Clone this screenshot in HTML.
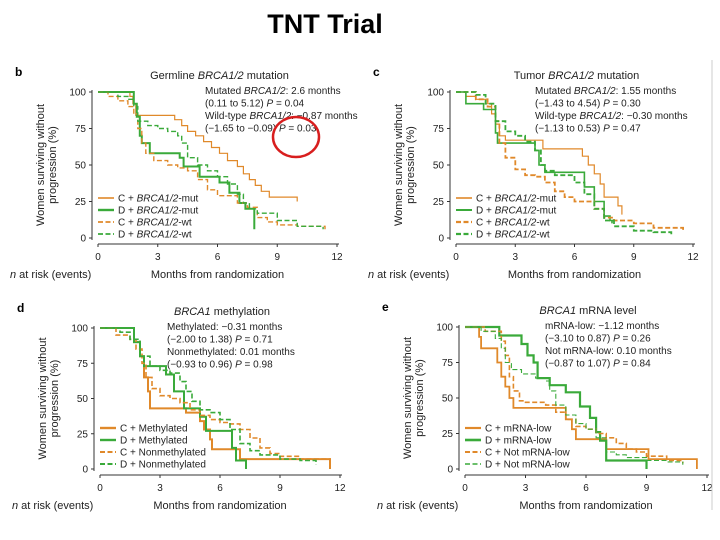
<!DOCTYPE html>
<html><head><meta charset="utf-8"><style>
body{margin:0;background:#fff;width:720px;height:540px;overflow:hidden}
svg{font-family:"Liberation Sans",sans-serif;display:block}
</style></head><body>
<svg id="fig" width="720" height="540" viewBox="0 0 720 540">
<text x="325" y="33" text-anchor="middle" font-family="Liberation Sans Narrow,Liberation Sans,sans-serif" font-weight="bold" font-size="27">TNT Trial</text>
</svg>
<script>
// ---- data: time (months) / survival (%) step points ----
const bCmutT=[0,1.6,1.75,1.9,3.85,4.2,4.5,4.9,5.3,5.7,6.1,6.5,7.0,7.3,7.6,7.9,8.2,8.6,10.0,10.0];
const bCmutS=[100,97,92,84,81,77,73,70,66,62,58,53,49,44,40,36,32,28,28,25];
const bDmutT=[0,1.8,1.95,2.1,2.2,2.6,4.1,4.3,5.1,6.1,6.6,7.1,7.4,7.85,7.85];
const bDmutS=[100,92,83,70,65,58,55,49,42,38,31,24,20,10,6];
const bCwtT=[0,0.5,1,1.5,1.8,2.0,2.2,2.4,2.8,3.5,4,4.5,5,5.5,6,7,7.5,8,8.5,9,10,11.4];
const bCwtS=[100,97,94,90,85,75,65,58,53,50,48,46,40,33,29,24,21,14,11,9,8,6];
const bDwtT=[0,1,1.5,1.8,2.0,2.5,3,3.5,4,4.2,4.5,5,5.5,6,6.5,7,7.3,7.6,8,9,10,11.3];
const bDwtS=[100,97,95,90,80,77,75,73,70,65,55,50,46,42,37,30,24,20,17,12,8,6];

const cCmutT=[0,0.5,1,1.5,1.8,2,2.2,2.5,4.3,4.4,6.3,6.4,6.7,7.0,7.3,7.5,8.2,8.4];
const cCmutS=[100,97,95,92,85,78,70,67,67,61,61,56,50,44,37,28,22,16];
const cDmutT=[0,0.5,1.4,2.0,2.1,4.0,4.2,4.5,6.4,6.5,7.0,7.5,7.8,7.9];
const cDmutS=[100,92,88,72,65,60,50,45,45,35,25,15,12,10];
const cCwtT=[0,1,1.6,2,2.2,2.5,3,3.5,4,4.5,5,5.5,6,7,7.5,8,9,10,11.5];
const cCwtS=[100,95,90,80,65,55,47,43,42,38,32,28,25,20,14,12,10,7,5];
const cDwtT=[0,1,1.5,2,2.5,3,3.5,4,4.3,4.5,5,6,6.5,7,7.5,8,9,10,10.9];
const cDwtS=[100,98,92,80,73,70,66,60,50,46,43,38,30,20,12,8,5,4,2];

const dCmT=[0,1.7,2.0,2.2,2.4,2.5,4.2,4.3,5.0,5.2,5.5,5.6,6.9,7.0,11.5,11.5];
const dCmS=[100,90,80,65,55,43,43,40,34,28,21,14,14,7,7,0];
const dDmT=[0,1.7,2.0,2.2,3.1,3.3,3.7,4.2,5.0,5.3,6.6,6.8,7.3];
const dDmS=[100,90,80,73,73,67,55,43,37,27,15,6,0];
const dCnT=[0,0.8,1.5,1.8,2.1,2.3,2.6,3,3.5,4,4.5,5,5.5,6,6.5,7,7.5,8,8.5,9,10,11.5];
const dCnS=[100,95,92,85,75,65,57,52,50,47,42,38,35,33,32,28,22,15,11,9,7,6];
const dDnT=[0,1,1.5,2,2.5,3,3.5,4,4.3,4.6,5,5.5,6,6.5,7,7.5,8,9,10,10.8];
const dDnS=[100,97,92,80,73,70,68,62,55,48,42,40,35,28,18,13,10,7,6,3];

const eClT=[0,0.7,0.8,1.6,1.8,2.0,2.2,2.4,4.3,5.0,5.3,5.5,6.8,7.0,9.1,9.1,11.5,11.5];
const eClS=[100,93,85,75,65,58,50,43,43,35,28,21,21,14,14,7,7,0];
const eDlT=[0,1.7,2.8,3.1,3.4,3.6,4.2,5.0,5.7,6.2,6.5,6.7,7.0,9.0,9.0];
const eDlS=[100,94,88,80,75,64,59,54,44,36,26,20,6,6,0];
const eCnT=[0,1,1.8,2,2.2,2.4,2.7,3,4,4.5,5,5.5,6,6.5,7,7.5,8,8.5,9,10,10.8];
const eCnS=[100,97,90,80,65,55,48,47,45,40,35,30,28,25,22,18,14,12,9,6,4];
const eDnT=[0,0.8,1.5,1.8,2,2.3,2.8,3.5,4.0,4.2,4.5,5,5.5,6,6.5,7,7.5,8,9,10,10.8];
const eDnS=[100,97,92,85,75,70,67,64,62,55,45,38,32,28,22,12,10,8,6,5,3];

const xTicks=[0,3,6,9,12];
const yTicks=[0,25,50,75,100];

const ORG='#e0892a', GRN='#3aaa3a';
const svg=document.getElementById('fig');
const NS='http://www.w3.org/2000/svg';
function mk(tag,attrs,parent){const e=document.createElementNS(NS,tag);for(const k in attrs)e.setAttribute(k,attrs[k]);(parent||svg).appendChild(e);return e;}

function panel(p){
  const g=mk('g',{});
  
  
  const X=t=>p.x0+(p.x1-p.x0)*t/12, Y=s=>p.y1+(p.y0-p.y1)*s/100;
  const lt=mk('text',{x:p.x0-83,y:p.y0-16,'font-weight':'bold','font-size':12},g);lt.textContent=p.id;
  
  const tt=mk('text',{x:(p.x0+p.x1)/2+2,y:p.y0-13,'text-anchor':'middle','font-size':11,fill:'#222'},g);tt.innerHTML=p.title;
  
  const ax=p.x0-6, yb=Y(0)+6;
  const ya=mk('line',{x1:ax,y1:Y(100)-2,x2:ax,y2:Y(0)+2,stroke:'#333','stroke-width':1},g);
  
  const xa=mk('line',{x1:X(0),y1:yb,x2:X(12)+2,y2:yb,stroke:'#333','stroke-width':1},g);
  
  yTicks.forEach(v=>{mk('line',{x1:ax-3,y1:Y(v),x2:ax,y2:Y(v),stroke:'#333'},g);
    const t=mk('text',{x:ax-6,y:Y(v)+3.5,'text-anchor':'end','font-size':10,fill:'#222'},g);t.textContent=v;
    });
  xTicks.forEach(v=>{mk('line',{x1:X(v),y1:yb,x2:X(v),y2:yb+3,stroke:'#333'},g);
    const t=mk('text',{x:X(v),y:yb+16,'text-anchor':'middle','font-size':10,fill:'#222'},g);t.textContent=v;
    });
  const xt=mk('text',{x:(p.x0+p.x1)/2,y:yb+34,'text-anchor':'middle','font-size':11,fill:'#222'},g);xt.textContent='Months from randomization';
  
  const nr=mk('text',{x:p.x0-88,y:yb+34,'font-size':11,fill:'#222'},g);nr.innerHTML='<tspan font-style="italic">n</tspan> at risk (events)';
  
  const yt=mk('text',{transform:`translate(${p.x0-52},${(Y(50))}) rotate(-90)`,'text-anchor':'middle','font-size':11,fill:'#222'},g);
  yt.innerHTML='<tspan x="0" dy="-2">Women surviving without</tspan><tspan x="0" dy="12">progression (%)</tspan>';
  
  const an=mk('text',{x:p.ax,y:p.y0+2,'font-size':10,fill:'#222'},g);
  an.innerHTML=p.ann.map((l,i)=>`<tspan x="${p.ax}" dy="${i?12.5:0}">${l}</tspan>`).join('');
  
  p.series.forEach((s,i)=>{
    let d=`M${X(s.t[0])},${Y(s.s[0])}`;
    for(let k=1;k<s.t.length;k++) d+=`H${X(s.t[k]).toFixed(1)}V${Y(s.s[k]).toFixed(1)}`;
    const a={d:d,fill:'none',stroke:s.c,'stroke-width':s.w};
    if(s.dash)a['stroke-dasharray']='5,2.5';
    const path=mk('path',a,g);
    
    
    const ly=p.ly+i*12;
    const ll=mk('line',{x1:p.x0,y1:ly,x2:p.x0+16,y2:ly,stroke:s.c,'stroke-width':s.w+0.4,'stroke-dasharray':s.dash?'5,2.5':'none'},g);
    
    const lt2=mk('text',{x:p.x0+20,y:ly+3.5,'font-size':10,fill:'#222'},g);lt2.innerHTML=s.label;
    
  });
  return g;
}
const I=s=>`<tspan font-style="italic">${s}</tspan>`;
panel({id:'b',x0:98,x1:337,y0:92,y1:238,ax:205,ly:198,title:`Germline ${I('BRCA1/2')} mutation`,
 ann:[`Mutated ${I('BRCA1/2')}: 2.6 months`,`(0.11 to 5.12) ${I('P')} = 0.04`,`Wild-type ${I('BRCA1/2')}: −0.87 months`,`(−1.65 to −0.09) ${I('P')} = 0.03`],
 series:[{key:'c-mut',t:bCmutT,s:bCmutS,c:ORG,w:1.2,label:`C + ${I('BRCA1/2')}-mut`},
 {key:'d-mut',t:bDmutT,s:bDmutS,c:GRN,w:2,label:`D + ${I('BRCA1/2')}-mut`},
 {key:'c-wt',t:bCwtT,s:bCwtS,c:ORG,w:1.4,dash:1,label:`C + ${I('BRCA1/2')}-wt`},
 {key:'d-wt',t:bDwtT,s:bDwtS,c:GRN,w:1.4,dash:1,label:`D + ${I('BRCA1/2')}-wt`}]});
panel({id:'c',x0:456,x1:693,y0:92,y1:238,ax:535,ly:198,title:`Tumor ${I('BRCA1/2')} mutation`,
 ann:[`Mutated ${I('BRCA1/2')}: 1.55 months`,`(−1.43 to 4.54) ${I('P')} = 0.30`,`Wild-type ${I('BRCA1/2')}: −0.30 months`,`(−1.13 to 0.53) ${I('P')} = 0.47`],
 series:[{key:'c-mut',t:cCmutT,s:cCmutS,c:ORG,w:1.2,label:`C + ${I('BRCA1/2')}-mut`},
 {key:'d-mut',t:cDmutT,s:cDmutS,c:GRN,w:1.6,label:`D + ${I('BRCA1/2')}-mut`},
 {key:'c-wt',t:cCwtT,s:cCwtS,c:ORG,w:1.8,dash:1,label:`C + ${I('BRCA1/2')}-wt`},
 {key:'d-wt',t:cDwtT,s:cDwtS,c:GRN,w:1.8,dash:1,label:`D + ${I('BRCA1/2')}-wt`}]});
panel({id:'d',x0:100,x1:340,y0:328,y1:469,ax:167,ly:428,title:`${I('BRCA1')} methylation`,
 ann:[`Methylated: −0.31 months`,`(−2.00 to 1.38) ${I('P')} = 0.71`,`Nonmethylated: 0.01 months`,`(−0.93 to 0.96) ${I('P')} = 0.98`],
 series:[{key:'c-meth',t:dCmT,s:dCmS,c:ORG,w:2,label:'C + Methylated'},
 {key:'d-meth',t:dDmT,s:dDmS,c:GRN,w:2,label:'D + Methylated'},
 {key:'c-nonmeth',t:dCnT,s:dCnS,c:ORG,w:1.6,dash:1,label:'C + Nonmethylated'},
 {key:'d-nonmeth',t:dDnT,s:dDnS,c:GRN,w:1.6,dash:1,label:'D + Nonmethylated'}]});
panel({id:'e',x0:465,x1:707,y0:327,y1:469,ax:545,ly:428,title:`${I('BRCA1')} mRNA level`,
 ann:[`mRNA-low: −1.12 months`,`(−3.10 to 0.87) ${I('P')} = 0.26`,`Not mRNA-low: 0.10 months`,`(−0.87 to 1.07) ${I('P')} = 0.84`],
 series:[{key:'c-low',t:eClT,s:eClS,c:ORG,w:1.8,label:'C + mRNA-low'},
 {key:'d-low',t:eDlT,s:eDlS,c:GRN,w:2.2,label:'D + mRNA-low'},
 {key:'c-not-low',t:eCnT,s:eCnS,c:ORG,w:1.6,dash:1,label:'C + Not mRNA-low'},
 {key:'d-not-low',t:eDnT,s:eDnS,c:GRN,w:1.1,dash:1,label:'D + Not mRNA-low'}]});
const circ=mk('ellipse',{cx:296,cy:137,rx:23,ry:20,fill:'none',stroke:'#d81e1e','stroke-width':2.5});


const rb=mk('line',{x1:712,y1:60,x2:712,y2:510,stroke:'#ccc','stroke-width':1});


</script>
</body></html>
